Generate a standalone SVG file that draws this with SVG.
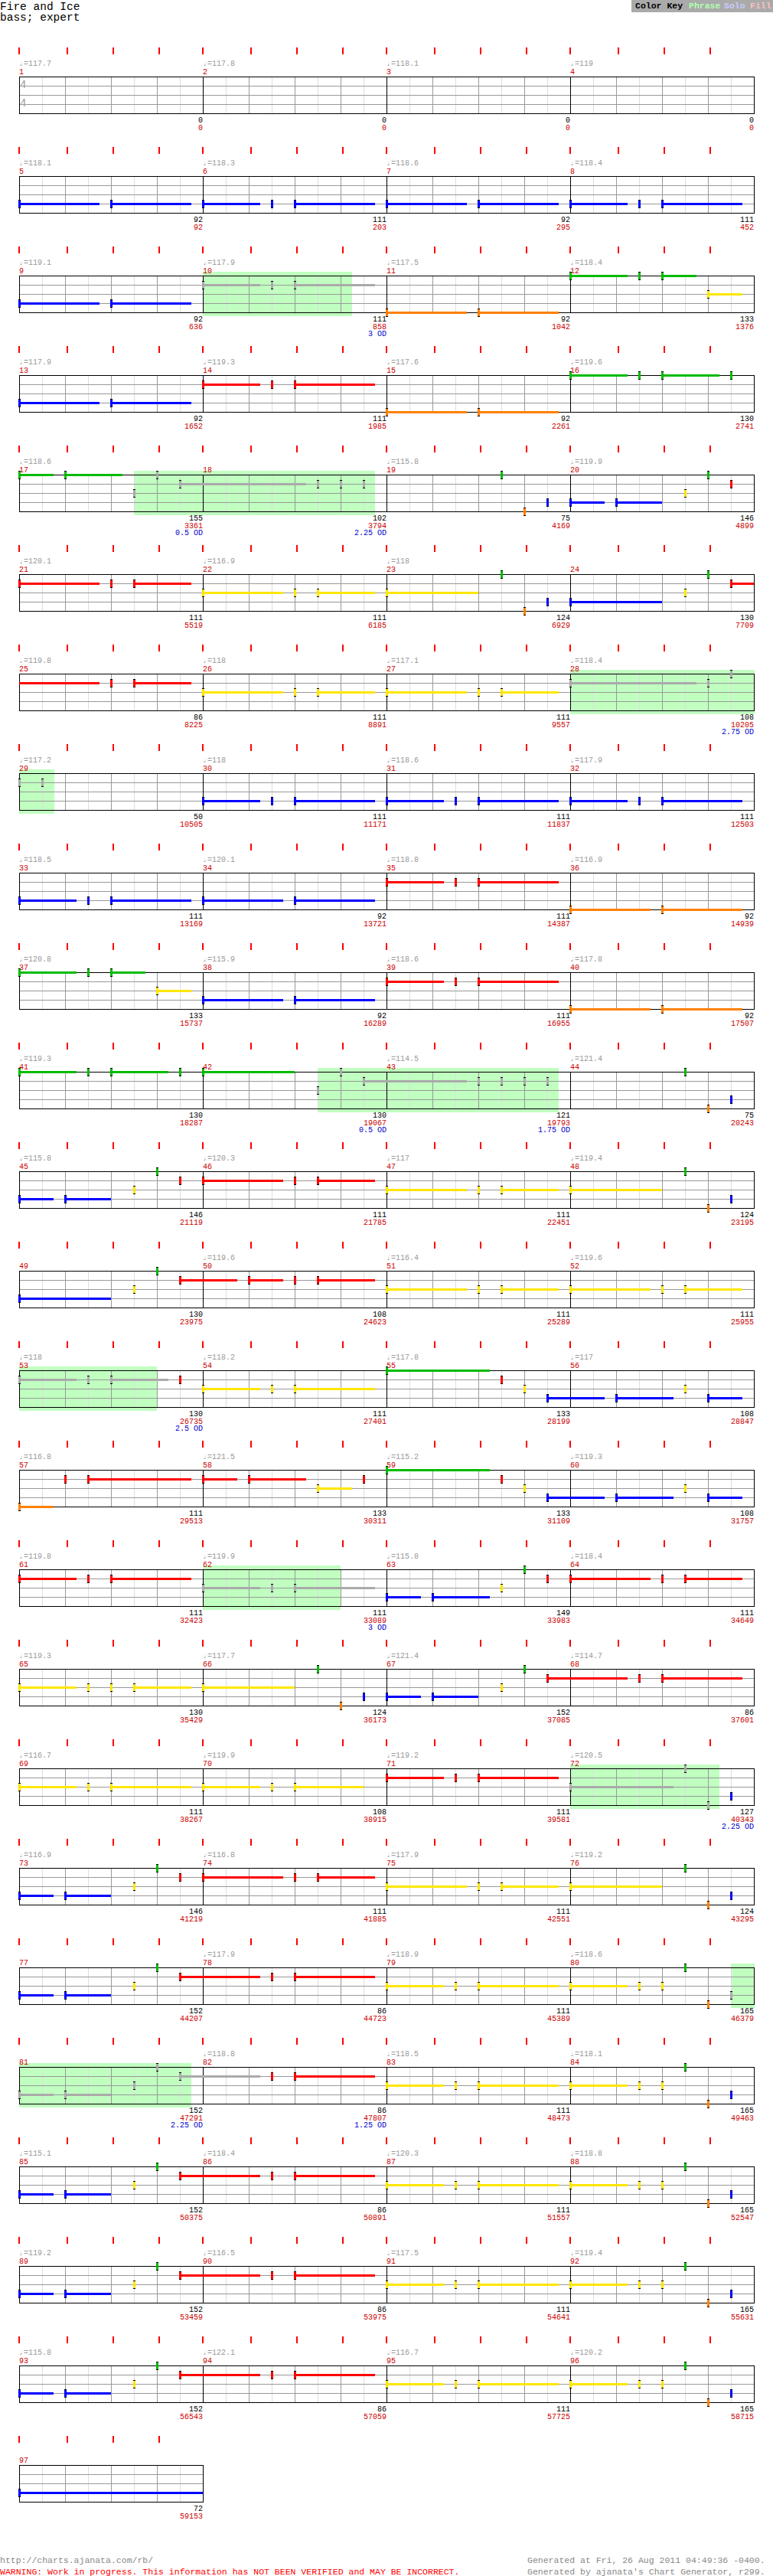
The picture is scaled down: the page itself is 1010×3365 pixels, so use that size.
<svg xmlns="http://www.w3.org/2000/svg" xmlns:xlink="http://www.w3.org/1999/xlink" width="1010" height="3365" viewBox="0 0 1010 3365">
<style>
.t{font-family:"Liberation Mono","DejaVu Sans Mono",monospace;font-size:10px}
.tp{fill:#999}
.mn{fill:#c00}
.sc{text-anchor:end;fill:#000}
.cu{text-anchor:end;fill:#c00}
.od{text-anchor:end;fill:#00c}
.ph{fill:#c0ffc0}
.sG{fill:#00bb00}.sR{fill:#f00}.sY{fill:#ffe600}.sB{fill:#00f}.sO{fill:#ff8000}.sS{fill:#aaa}
.ft{font-family:"Liberation Mono","DejaVu Sans Mono",monospace;font-size:11.5px}
</style>
<defs>
<g id="staff4" fill="none">
<path stroke="#ddd" d="M55.5 100v48M115.5 100v48M175.5 100v48M235.5 100v48M295.5 100v48M355.5 100v48M415.5 100v48M475.5 100v48M535.5 100v48M595.5 100v48M655.5 100v48M715.5 100v48M775.5 100v48M835.5 100v48M895.5 100v48M955.5 100v48"/>
<path stroke="#999" d="M85.5 100v48M145.5 100v48M205.5 100v48M325.5 100v48M385.5 100v48M445.5 100v48M565.5 100v48M625.5 100v48M685.5 100v48M805.5 100v48M865.5 100v48M925.5 100v48M25 112.5h960M25 124.5h960M25 136.5h960"/>
<path stroke="#000" d="M265.5 100v48M505.5 100v48M745.5 100v48"/>
<rect x="25.5" y="100.5" width="960" height="48" stroke="#000"/>
</g>
<g id="staff1" fill="none">
<path stroke="#ddd" d="M55.5 100v48M115.5 100v48M175.5 100v48M235.5 100v48"/>
<path stroke="#999" d="M85.5 100v48M145.5 100v48M205.5 100v48M25 112.5h240M25 124.5h240M25 136.5h240"/>
<rect x="25.5" y="100.5" width="240" height="48" stroke="#000"/>
</g>
<path id="ticks4" stroke="#f00" stroke-width="2" d="M25 62v9M88 62v9M148 62v9M208 62v9M265 62v9M328 62v9M388 62v9M448 62v9M505 62v9M568 62v9M628 62v9M688 62v9M745 62v9M808 62v9M868 62v9M928 62v9"/>
<path id="ticks1" stroke="#f00" stroke-width="2" d="M25 62v9M88 62v9M148 62v9M208 62v9"/>
<g id="hG"><rect x="-1" y="-5" width="3" height="11"/><rect x="-1" y="-4" width="3" height="9" fill="#00bb00"/></g>
<g id="hR"><rect x="-1" y="-5" width="3" height="11"/><rect x="-1" y="-4" width="3" height="9" fill="#f00"/></g>
<g id="hY"><rect x="-1" y="-5" width="3" height="11"/><rect x="-1" y="-4" width="3" height="9" fill="#ffe600"/></g>
<g id="hB"><rect x="-1" y="-5" width="3" height="11"/><rect x="-1" y="-4" width="3" height="9" fill="#00f"/></g>
<g id="hO"><rect x="-1" y="-5" width="3" height="11"/><rect x="-1" y="-4" width="3" height="9" fill="#ff8000"/></g>
<g id="hS"><rect x="-1" y="-5" width="3" height="11"/><rect x="-1" y="-4" width="3" height="9" fill="#aaa"/></g>
<g id="P2">
<rect class="sB" x="25" y="135" width="45" height="3"/><use href="#hB" x="25" y="136"/>
<rect class="sB" x="85" y="135" width="60" height="3"/><use href="#hB" x="85" y="136"/>
<use href="#hY" x="175" y="124"/><use href="#hG" x="205" y="100"/><use href="#hR" x="235" y="112"/>
<rect class="sR" x="265" y="111" width="105" height="3"/><use href="#hR" x="265" y="112"/>
<use href="#hR" x="385" y="112"/>
<rect class="sR" x="415" y="111" width="75" height="3"/><use href="#hR" x="415" y="112"/>
<rect class="sY" x="505" y="123" width="105" height="3"/><use href="#hY" x="505" y="124"/>
<use href="#hY" x="625" y="124"/>
<rect class="sY" x="655" y="123" width="75" height="3"/><use href="#hY" x="655" y="124"/>
<rect class="sY" x="745" y="123" width="120" height="3"/><use href="#hY" x="745" y="124"/>
<use href="#hG" x="895" y="100"/><use href="#hO" x="925" y="148"/><use href="#hB" x="955" y="136"/>
</g>
<g id="P1s">
<rect class="sB" x="25" y="135" width="45" height="3"/><use href="#hB" x="25" y="136"/>
<rect class="sB" x="85" y="135" width="60" height="3"/><use href="#hB" x="85" y="136"/>
<use href="#hY" x="175" y="124"/><use href="#hG" x="205" y="100"/>
<rect class="sR" x="235" y="111" width="105" height="3"/><use href="#hR" x="235" y="112"/>
</g>
<g id="P1m">
<use href="#hR" x="355" y="112"/>
<rect class="sR" x="385" y="111" width="105" height="3"/><use href="#hR" x="385" y="112"/>
<rect class="sY" x="505" y="123" width="75" height="3"/><use href="#hY" x="505" y="124"/>
<use href="#hY" x="595" y="124"/>
<rect class="sY" x="625" y="123" width="105" height="3"/><use href="#hY" x="625" y="124"/>
<rect class="sY" x="745" y="123" width="75" height="3"/><use href="#hY" x="745" y="124"/>
<use href="#hY" x="835" y="124"/><use href="#hY" x="865" y="124"/>
<use href="#hG" x="895" y="100"/><use href="#hO" x="925" y="148"/>
</g>
</defs>
<rect width="1010" height="3365" fill="#fff"/>
<g id="header">
<text x="0" y="13" font-family="Liberation Mono, DejaVu Sans Mono, monospace" font-size="14.5">Fire and Ice</text>
<text x="0" y="27" font-family="Liberation Mono, DejaVu Sans Mono, monospace" font-size="14.5">bass; expert</text>
</g>
<g id="colorkey">
<rect x="825" y="0" width="185" height="16" fill="#aaa"/>
<text font-family="Liberation Mono, DejaVu Sans Mono, monospace" font-size="11.5" font-weight="bold" y="11"><tspan x="830" fill="#000">Color Key</tspan><tspan x="900" fill="#b0ffb0">Phrase</tspan><tspan x="946" fill="#ccccff">Solo</tspan><tspan x="980" fill="#ffc0c0">Fill</tspan></text>
</g>

<g id="row1">
<use href="#staff4"/><use href="#ticks4"/>
<text x="26" y="115" font-family="Liberation Mono, monospace" font-size="14" fill="#999">4</text>
<text x="26" y="138.5" font-family="Liberation Mono, monospace" font-size="14" fill="#999">4</text>
<g class="t">
<text class="tp" x="25" y="86">♩=117.7</text><text class="tp" x="265" y="86">♩=117.8</text><text class="tp" x="505" y="86">♩=118.1</text><text class="tp" x="745" y="86">♩=119</text>
<text class="mn" x="25" y="97">1</text><text class="mn" x="265" y="97">2</text><text class="mn" x="505" y="97">3</text><text class="mn" x="745" y="97">4</text>
<text class="sc" x="265" y="160">0</text><text class="cu" x="265" y="170">0</text>
<text class="sc" x="505" y="160">0</text><text class="cu" x="505" y="170">0</text>
<text class="sc" x="745" y="160">0</text><text class="cu" x="745" y="170">0</text>
<text class="sc" x="985" y="160">0</text><text class="cu" x="985" y="170">0</text>
</g>
</g>

<g id="row2" transform="translate(0,130)">
<use href="#staff4"/><use href="#ticks4"/>
<g class="t">
<text class="tp" x="25" y="86">♩=118.1</text><text class="tp" x="265" y="86">♩=118.3</text><text class="tp" x="505" y="86">♩=118.6</text><text class="tp" x="745" y="86">♩=118.4</text>
<text class="mn" x="25" y="97">5</text><text class="mn" x="265" y="97">6</text><text class="mn" x="505" y="97">7</text><text class="mn" x="745" y="97">8</text>
<text class="sc" x="265" y="160">92</text><text class="cu" x="265" y="170">92</text>
<text class="sc" x="505" y="160">111</text><text class="cu" x="505" y="170">203</text>
<text class="sc" x="745" y="160">92</text><text class="cu" x="745" y="170">295</text>
<text class="sc" x="985" y="160">111</text><text class="cu" x="985" y="170">452</text>
</g>
<rect class="sB" x="25" y="135" width="105" height="3"/><use href="#hB" x="25" y="136"/>
<rect class="sB" x="145" y="135" width="105" height="3"/><use href="#hB" x="145" y="136"/>
<rect class="sB" x="265" y="135" width="75" height="3"/><use href="#hB" x="265" y="136"/>
<use href="#hB" x="355" y="136"/>
<rect class="sB" x="385" y="135" width="105" height="3"/><use href="#hB" x="385" y="136"/>
<rect class="sB" x="505" y="135" width="105" height="3"/><use href="#hB" x="505" y="136"/>
<rect class="sB" x="625" y="135" width="105" height="3"/><use href="#hB" x="625" y="136"/>
<rect class="sB" x="745" y="135" width="75" height="3"/><use href="#hB" x="745" y="136"/>
<use href="#hB" x="835" y="136"/>
<rect class="sB" x="865" y="135" width="105" height="3"/><use href="#hB" x="865" y="136"/>
</g>

<g id="row3" transform="translate(0,260)">
<rect class="ph" x="265" y="95" width="195" height="58"/>
<use href="#staff4"/><use href="#ticks4"/>
<g class="t">
<text class="tp" x="25" y="86">♩=119.1</text><text class="tp" x="265" y="86">♩=117.9</text><text class="tp" x="505" y="86">♩=117.5</text><text class="tp" x="745" y="86">♩=118.4</text>
<text class="mn" x="25" y="97">9</text><text class="mn" x="265" y="97">10</text><text class="mn" x="505" y="97">11</text><text class="mn" x="745" y="97">12</text>
<text class="sc" x="265" y="160">92</text><text class="cu" x="265" y="170">636</text>
<text class="sc" x="505" y="160">111</text><text class="cu" x="505" y="170">858</text><text class="od" x="505" y="179">3 OD</text>
<text class="sc" x="745" y="160">92</text><text class="cu" x="745" y="170">1042</text>
<text class="sc" x="985" y="160">133</text><text class="cu" x="985" y="170">1376</text>
</g>
<rect class="sB" x="25" y="135" width="105" height="3"/><use href="#hB" x="25" y="136"/>
<rect class="sB" x="145" y="135" width="105" height="3"/><use href="#hB" x="145" y="136"/>
<rect class="sS" x="265" y="111" width="75" height="3"/><use href="#hS" x="265" y="112"/>
<use href="#hS" x="355" y="112"/>
<rect class="sS" x="385" y="111" width="105" height="3"/><use href="#hS" x="385" y="112"/>
<rect class="sO" x="505" y="147" width="105" height="3"/><use href="#hO" x="505" y="148"/>
<rect class="sO" x="625" y="147" width="105" height="3"/><use href="#hO" x="625" y="148"/>
<rect class="sG" x="745" y="99" width="75" height="3"/><use href="#hG" x="745" y="100"/>
<use href="#hG" x="835" y="100"/>
<rect class="sG" x="865" y="99" width="45" height="3"/><use href="#hG" x="865" y="100"/>
<rect class="sY" x="925" y="123" width="45" height="3"/><use href="#hY" x="925" y="124"/>
</g>

<g id="row4" transform="translate(0,390)">
<use href="#staff4"/><use href="#ticks4"/>
<g class="t">
<text class="tp" x="25" y="86">♩=117.9</text><text class="tp" x="265" y="86">♩=119.3</text><text class="tp" x="505" y="86">♩=117.6</text><text class="tp" x="745" y="86">♩=119.6</text>
<text class="mn" x="25" y="97">13</text><text class="mn" x="265" y="97">14</text><text class="mn" x="505" y="97">15</text><text class="mn" x="745" y="97">16</text>
<text class="sc" x="265" y="160">92</text><text class="cu" x="265" y="170">1652</text>
<text class="sc" x="505" y="160">111</text><text class="cu" x="505" y="170">1985</text>
<text class="sc" x="745" y="160">92</text><text class="cu" x="745" y="170">2261</text>
<text class="sc" x="985" y="160">130</text><text class="cu" x="985" y="170">2741</text>
</g>
<rect class="sB" x="25" y="135" width="105" height="3"/><use href="#hB" x="25" y="136"/>
<rect class="sB" x="145" y="135" width="105" height="3"/><use href="#hB" x="145" y="136"/>
<rect class="sR" x="265" y="111" width="75" height="3"/><use href="#hR" x="265" y="112"/>
<use href="#hR" x="355" y="112"/>
<rect class="sR" x="385" y="111" width="105" height="3"/><use href="#hR" x="385" y="112"/>
<rect class="sO" x="505" y="147" width="105" height="3"/><use href="#hO" x="505" y="148"/>
<rect class="sO" x="625" y="147" width="105" height="3"/><use href="#hO" x="625" y="148"/>
<rect class="sG" x="745" y="99" width="75" height="3"/><use href="#hG" x="745" y="100"/>
<use href="#hG" x="835" y="100"/>
<rect class="sG" x="865" y="99" width="75" height="3"/><use href="#hG" x="865" y="100"/>
<use href="#hG" x="955" y="100"/>
</g>

<g id="row5" transform="translate(0,520)">
<rect class="ph" x="175" y="95" width="315" height="58"/>
<use href="#staff4"/><use href="#ticks4"/>
<g class="t">
<text class="tp" x="25" y="86">♩=118.6</text><text class="tp" x="505" y="86">♩=115.8</text><text class="tp" x="745" y="86">♩=119.9</text>
<text class="mn" x="25" y="97">17</text><text class="mn" x="265" y="97">18</text><text class="mn" x="505" y="97">19</text><text class="mn" x="745" y="97">20</text>
<text class="sc" x="265" y="160">155</text><text class="cu" x="265" y="170">3361</text><text class="od" x="265" y="179">0.5 OD</text>
<text class="sc" x="505" y="160">102</text><text class="cu" x="505" y="170">3794</text><text class="od" x="505" y="179">2.25 OD</text>
<text class="sc" x="745" y="160">75</text><text class="cu" x="745" y="170">4169</text>
<text class="sc" x="985" y="160">146</text><text class="cu" x="985" y="170">4899</text>
</g>
<rect class="sG" x="25" y="99" width="45" height="3"/><use href="#hG" x="25" y="100"/>
<rect class="sG" x="85" y="99" width="75" height="3"/><use href="#hG" x="85" y="100"/>
<use href="#hS" x="175" y="124"/><use href="#hS" x="205" y="100"/>
<rect class="sS" x="235" y="111" width="165" height="3"/><use href="#hS" x="235" y="112"/>
<use href="#hS" x="415" y="112"/><use href="#hS" x="445" y="112"/><use href="#hS" x="475" y="112"/>
<use href="#hG" x="655" y="100"/><use href="#hO" x="685" y="148"/><use href="#hB" x="715" y="136"/>
<rect class="sB" x="745" y="135" width="45" height="3"/><use href="#hB" x="745" y="136"/>
<rect class="sB" x="805" y="135" width="60" height="3"/><use href="#hB" x="805" y="136"/>
<use href="#hY" x="895" y="124"/><use href="#hG" x="925" y="100"/><use href="#hR" x="955" y="112"/>
</g>

<g id="row6" transform="translate(0,650)">
<use href="#staff4"/><use href="#ticks4"/>
<g class="t">
<text class="tp" x="25" y="86">♩=120.1</text><text class="tp" x="265" y="86">♩=116.9</text><text class="tp" x="505" y="86">♩=118</text>
<text class="mn" x="25" y="97">21</text><text class="mn" x="265" y="97">22</text><text class="mn" x="505" y="97">23</text><text class="mn" x="745" y="97">24</text>
<text class="sc" x="265" y="160">111</text><text class="cu" x="265" y="170">5519</text>
<text class="sc" x="505" y="160">111</text><text class="cu" x="505" y="170">6185</text>
<text class="sc" x="745" y="160">124</text><text class="cu" x="745" y="170">6929</text>
<text class="sc" x="985" y="160">130</text><text class="cu" x="985" y="170">7709</text>
</g>
<rect class="sR" x="25" y="111" width="105" height="3"/><use href="#hR" x="25" y="112"/>
<use href="#hR" x="145" y="112"/>
<rect class="sR" x="175" y="111" width="75" height="3"/><use href="#hR" x="175" y="112"/>
<rect class="sY" x="265" y="123" width="105" height="3"/><use href="#hY" x="265" y="124"/>
<use href="#hY" x="385" y="124"/>
<rect class="sY" x="415" y="123" width="75" height="3"/><use href="#hY" x="415" y="124"/>
<rect class="sY" x="505" y="123" width="120" height="3"/><use href="#hY" x="505" y="124"/>
<use href="#hG" x="655" y="100"/><use href="#hO" x="685" y="148"/><use href="#hB" x="715" y="136"/>
<rect class="sB" x="745" y="135" width="120" height="3"/><use href="#hB" x="745" y="136"/>
<use href="#hY" x="895" y="124"/><use href="#hG" x="925" y="100"/>
<rect class="sR" x="955" y="111" width="30" height="3"/><use href="#hR" x="955" y="112"/>
</g>

<g id="row7" transform="translate(0,780)">
<rect class="ph" x="745" y="95" width="241" height="58"/>
<use href="#staff4"/><use href="#ticks4"/>
<g class="t">
<text class="tp" x="25" y="86">♩=119.8</text><text class="tp" x="265" y="86">♩=118</text><text class="tp" x="505" y="86">♩=117.1</text><text class="tp" x="745" y="86">♩=118.4</text>
<text class="mn" x="25" y="97">25</text><text class="mn" x="265" y="97">26</text><text class="mn" x="505" y="97">27</text><text class="mn" x="745" y="97">28</text>
<text class="sc" x="265" y="160">86</text><text class="cu" x="265" y="170">8225</text>
<text class="sc" x="505" y="160">111</text><text class="cu" x="505" y="170">8891</text>
<text class="sc" x="745" y="160">111</text><text class="cu" x="745" y="170">9557</text>
<text class="sc" x="985" y="160">108</text><text class="cu" x="985" y="170">10205</text><text class="od" x="985" y="179">2.75 OD</text>
</g>
<rect class="sR" x="25" y="111" width="105" height="3"/>
<use href="#hR" x="145" y="112"/>
<rect class="sR" x="175" y="111" width="75" height="3"/><use href="#hR" x="175" y="112"/>
<rect class="sY" x="265" y="123" width="105" height="3"/><use href="#hY" x="265" y="124"/>
<use href="#hY" x="385" y="124"/>
<rect class="sY" x="415" y="123" width="75" height="3"/><use href="#hY" x="415" y="124"/>
<rect class="sY" x="505" y="123" width="105" height="3"/><use href="#hY" x="505" y="124"/>
<use href="#hY" x="625" y="124"/>
<rect class="sY" x="655" y="123" width="75" height="3"/><use href="#hY" x="655" y="124"/>
<rect class="sS" x="745" y="111" width="165" height="3"/><use href="#hS" x="745" y="112"/>
<use href="#hS" x="925" y="112"/><use href="#hS" x="955" y="100"/>
</g>

<g id="row8" transform="translate(0,910)">
<rect class="ph" x="25" y="95" width="46" height="58"/>
<use href="#staff4"/><use href="#ticks4"/>
<g class="t">
<text class="tp" x="25" y="86">♩=117.2</text><text class="tp" x="265" y="86">♩=118</text><text class="tp" x="505" y="86">♩=118.6</text><text class="tp" x="745" y="86">♩=117.9</text>
<text class="mn" x="25" y="97">29</text><text class="mn" x="265" y="97">30</text><text class="mn" x="505" y="97">31</text><text class="mn" x="745" y="97">32</text>
<text class="sc" x="265" y="160">50</text><text class="cu" x="265" y="170">10505</text>
<text class="sc" x="505" y="160">111</text><text class="cu" x="505" y="170">11171</text>
<text class="sc" x="745" y="160">111</text><text class="cu" x="745" y="170">11837</text>
<text class="sc" x="985" y="160">111</text><text class="cu" x="985" y="170">12503</text>
</g>
<use href="#hS" x="25" y="112"/><use href="#hS" x="55" y="112"/>
<rect class="sB" x="265" y="135" width="75" height="3"/><use href="#hB" x="265" y="136"/>
<use href="#hB" x="355" y="136"/>
<rect class="sB" x="385" y="135" width="105" height="3"/><use href="#hB" x="385" y="136"/>
<rect class="sB" x="505" y="135" width="75" height="3"/><use href="#hB" x="505" y="136"/>
<use href="#hB" x="595" y="136"/>
<rect class="sB" x="625" y="135" width="105" height="3"/><use href="#hB" x="625" y="136"/>
<rect class="sB" x="745" y="135" width="75" height="3"/><use href="#hB" x="745" y="136"/>
<use href="#hB" x="835" y="136"/>
<rect class="sB" x="865" y="135" width="105" height="3"/><use href="#hB" x="865" y="136"/>
</g>

<g id="row9" transform="translate(0,1040)">
<use href="#staff4"/><use href="#ticks4"/>
<g class="t">
<text class="tp" x="25" y="86">♩=118.5</text><text class="tp" x="265" y="86">♩=120.1</text><text class="tp" x="505" y="86">♩=118.8</text><text class="tp" x="745" y="86">♩=116.9</text>
<text class="mn" x="25" y="97">33</text><text class="mn" x="265" y="97">34</text><text class="mn" x="505" y="97">35</text><text class="mn" x="745" y="97">36</text>
<text class="sc" x="265" y="160">111</text><text class="cu" x="265" y="170">13169</text>
<text class="sc" x="505" y="160">92</text><text class="cu" x="505" y="170">13721</text>
<text class="sc" x="745" y="160">111</text><text class="cu" x="745" y="170">14387</text>
<text class="sc" x="985" y="160">92</text><text class="cu" x="985" y="170">14939</text>
</g>
<rect class="sB" x="25" y="135" width="75" height="3"/><use href="#hB" x="25" y="136"/>
<use href="#hB" x="115" y="136"/>
<rect class="sB" x="145" y="135" width="105" height="3"/><use href="#hB" x="145" y="136"/>
<rect class="sB" x="265" y="135" width="105" height="3"/><use href="#hB" x="265" y="136"/>
<rect class="sB" x="385" y="135" width="105" height="3"/><use href="#hB" x="385" y="136"/>
<rect class="sR" x="505" y="111" width="75" height="3"/><use href="#hR" x="505" y="112"/>
<use href="#hR" x="595" y="112"/>
<rect class="sR" x="625" y="111" width="105" height="3"/><use href="#hR" x="625" y="112"/>
<rect class="sO" x="745" y="147" width="105" height="3"/><use href="#hO" x="745" y="148"/>
<rect class="sO" x="865" y="147" width="105" height="3"/><use href="#hO" x="865" y="148"/>
</g>

<g id="row10" transform="translate(0,1170)">
<use href="#staff4"/><use href="#ticks4"/>
<g class="t">
<text class="tp" x="25" y="86">♩=120.8</text><text class="tp" x="265" y="86">♩=115.9</text><text class="tp" x="505" y="86">♩=118.6</text><text class="tp" x="745" y="86">♩=117.8</text>
<text class="mn" x="25" y="97">37</text><text class="mn" x="265" y="97">38</text><text class="mn" x="505" y="97">39</text><text class="mn" x="745" y="97">40</text>
<text class="sc" x="265" y="160">133</text><text class="cu" x="265" y="170">15737</text>
<text class="sc" x="505" y="160">92</text><text class="cu" x="505" y="170">16289</text>
<text class="sc" x="745" y="160">111</text><text class="cu" x="745" y="170">16955</text>
<text class="sc" x="985" y="160">92</text><text class="cu" x="985" y="170">17507</text>
</g>
<rect class="sG" x="25" y="99" width="75" height="3"/><use href="#hG" x="25" y="100"/>
<use href="#hG" x="115" y="100"/>
<rect class="sG" x="145" y="99" width="45" height="3"/><use href="#hG" x="145" y="100"/>
<rect class="sY" x="205" y="123" width="45" height="3"/><use href="#hY" x="205" y="124"/>
<rect class="sB" x="265" y="135" width="105" height="3"/><use href="#hB" x="265" y="136"/>
<rect class="sB" x="385" y="135" width="105" height="3"/><use href="#hB" x="385" y="136"/>
<rect class="sR" x="505" y="111" width="75" height="3"/><use href="#hR" x="505" y="112"/>
<use href="#hR" x="595" y="112"/>
<rect class="sR" x="625" y="111" width="105" height="3"/><use href="#hR" x="625" y="112"/>
<rect class="sO" x="745" y="147" width="105" height="3"/><use href="#hO" x="745" y="148"/>
<rect class="sO" x="865" y="147" width="105" height="3"/><use href="#hO" x="865" y="148"/>
</g>

<g id="row11" transform="translate(0,1300)">
<rect class="ph" x="415" y="95" width="315" height="58"/>
<use href="#staff4"/><use href="#ticks4"/>
<g class="t">
<text class="tp" x="25" y="86">♩=119.3</text><text class="tp" x="505" y="86">♩=114.5</text><text class="tp" x="745" y="86">♩=121.4</text>
<text class="mn" x="25" y="97">41</text><text class="mn" x="265" y="97">42</text><text class="mn" x="505" y="97">43</text><text class="mn" x="745" y="97">44</text>
<text class="sc" x="265" y="160">130</text><text class="cu" x="265" y="170">18287</text>
<text class="sc" x="505" y="160">130</text><text class="cu" x="505" y="170">19067</text><text class="od" x="505" y="179">0.5 OD</text>
<text class="sc" x="745" y="160">121</text><text class="cu" x="745" y="170">19793</text><text class="od" x="745" y="179">1.75 OD</text>
<text class="sc" x="985" y="160">75</text><text class="cu" x="985" y="170">20243</text>
</g>
<rect class="sG" x="25" y="99" width="75" height="3"/><use href="#hG" x="25" y="100"/>
<use href="#hG" x="115" y="100"/>
<rect class="sG" x="145" y="99" width="75" height="3"/><use href="#hG" x="145" y="100"/>
<use href="#hG" x="235" y="100"/>
<rect class="sG" x="265" y="99" width="120" height="3"/><use href="#hG" x="265" y="100"/>
<use href="#hS" x="415" y="124"/><use href="#hS" x="445" y="100"/>
<rect class="sS" x="475" y="111" width="135" height="3"/><use href="#hS" x="475" y="112"/>
<use href="#hS" x="625" y="112"/><use href="#hS" x="655" y="112"/><use href="#hS" x="685" y="112"/><use href="#hS" x="715" y="112"/>
<use href="#hG" x="895" y="100"/><use href="#hO" x="925" y="148"/><use href="#hB" x="955" y="136"/>
</g>

<g id="row12" transform="translate(0,1430)">
<use href="#staff4"/><use href="#ticks4"/>
<g class="t">
<text class="tp" x="25" y="86">♩=115.8</text><text class="tp" x="265" y="86">♩=120.3</text><text class="tp" x="505" y="86">♩=117</text><text class="tp" x="745" y="86">♩=119.4</text>
<text class="mn" x="25" y="97">45</text><text class="mn" x="265" y="97">46</text><text class="mn" x="505" y="97">47</text><text class="mn" x="745" y="97">48</text>
<text class="sc" x="265" y="160">146</text><text class="cu" x="265" y="170">21119</text>
<text class="sc" x="505" y="160">111</text><text class="cu" x="505" y="170">21785</text>
<text class="sc" x="745" y="160">111</text><text class="cu" x="745" y="170">22451</text>
<text class="sc" x="985" y="160">124</text><text class="cu" x="985" y="170">23195</text>
</g>
<use href="#P2"/>
</g>

<g id="row13" transform="translate(0,1560)">
<use href="#staff4"/><use href="#ticks4"/>
<g class="t">
<text class="tp" x="265" y="86">♩=119.6</text><text class="tp" x="505" y="86">♩=116.4</text><text class="tp" x="745" y="86">♩=119.6</text>
<text class="mn" x="25" y="97">49</text><text class="mn" x="265" y="97">50</text><text class="mn" x="505" y="97">51</text><text class="mn" x="745" y="97">52</text>
<text class="sc" x="265" y="160">130</text><text class="cu" x="265" y="170">23975</text>
<text class="sc" x="505" y="160">108</text><text class="cu" x="505" y="170">24623</text>
<text class="sc" x="745" y="160">111</text><text class="cu" x="745" y="170">25289</text>
<text class="sc" x="985" y="160">111</text><text class="cu" x="985" y="170">25955</text>
</g>
<rect class="sB" x="25" y="135" width="120" height="3"/><use href="#hB" x="25" y="136"/>
<use href="#hY" x="175" y="124"/><use href="#hG" x="205" y="100"/>
<rect class="sR" x="235" y="111" width="75" height="3"/><use href="#hR" x="235" y="112"/>
<rect class="sR" x="325" y="111" width="45" height="3"/><use href="#hR" x="325" y="112"/>
<use href="#hR" x="385" y="112"/>
<rect class="sR" x="415" y="111" width="75" height="3"/><use href="#hR" x="415" y="112"/>
<rect class="sY" x="505" y="123" width="105" height="3"/><use href="#hY" x="505" y="124"/>
<use href="#hY" x="625" y="124"/>
<rect class="sY" x="655" y="123" width="75" height="3"/><use href="#hY" x="655" y="124"/>
<rect class="sY" x="745" y="123" width="105" height="3"/><use href="#hY" x="745" y="124"/>
<use href="#hY" x="865" y="124"/>
<rect class="sY" x="895" y="123" width="75" height="3"/><use href="#hY" x="895" y="124"/>
</g>

<g id="row14" transform="translate(0,1690)">
<rect class="ph" x="25" y="95" width="180" height="58"/>
<use href="#staff4"/><use href="#ticks4"/>
<g class="t">
<text class="tp" x="25" y="86">♩=118</text><text class="tp" x="265" y="86">♩=118.2</text><text class="tp" x="505" y="86">♩=117.8</text><text class="tp" x="745" y="86">♩=117</text>
<text class="mn" x="25" y="97">53</text><text class="mn" x="265" y="97">54</text><text class="mn" x="505" y="97">55</text><text class="mn" x="745" y="97">56</text>
<text class="sc" x="265" y="160">130</text><text class="cu" x="265" y="170">26735</text><text class="od" x="265" y="179">2.5 OD</text>
<text class="sc" x="505" y="160">111</text><text class="cu" x="505" y="170">27401</text>
<text class="sc" x="745" y="160">133</text><text class="cu" x="745" y="170">28199</text>
<text class="sc" x="985" y="160">108</text><text class="cu" x="985" y="170">28847</text>
</g>
<rect class="sS" x="25" y="111" width="75" height="3"/><use href="#hS" x="25" y="112"/>
<use href="#hS" x="115" y="112"/>
<rect class="sS" x="145" y="111" width="75" height="3"/><use href="#hS" x="145" y="112"/>
<use href="#hR" x="235" y="112"/>
<rect class="sY" x="265" y="123" width="75" height="3"/><use href="#hY" x="265" y="124"/>
<use href="#hY" x="355" y="124"/>
<rect class="sY" x="385" y="123" width="105" height="3"/><use href="#hY" x="385" y="124"/>
<rect class="sG" x="505" y="99" width="135" height="3"/><use href="#hG" x="505" y="100"/>
<use href="#hR" x="655" y="112"/><use href="#hY" x="685" y="124"/>
<rect class="sB" x="715" y="135" width="75" height="3"/><use href="#hB" x="715" y="136"/>
<rect class="sB" x="805" y="135" width="75" height="3"/><use href="#hB" x="805" y="136"/>
<use href="#hY" x="895" y="124"/>
<rect class="sB" x="925" y="135" width="45" height="3"/><use href="#hB" x="925" y="136"/>
</g>

<g id="row15" transform="translate(0,1820)">
<use href="#staff4"/><use href="#ticks4"/>
<g class="t">
<text class="tp" x="25" y="86">♩=116.8</text><text class="tp" x="265" y="86">♩=121.5</text><text class="tp" x="505" y="86">♩=115.2</text><text class="tp" x="745" y="86">♩=119.3</text>
<text class="mn" x="25" y="97">57</text><text class="mn" x="265" y="97">58</text><text class="mn" x="505" y="97">59</text><text class="mn" x="745" y="97">60</text>
<text class="sc" x="265" y="160">111</text><text class="cu" x="265" y="170">29513</text>
<text class="sc" x="505" y="160">133</text><text class="cu" x="505" y="170">30311</text>
<text class="sc" x="745" y="160">133</text><text class="cu" x="745" y="170">31109</text>
<text class="sc" x="985" y="160">108</text><text class="cu" x="985" y="170">31757</text>
</g>
<rect class="sO" x="25" y="147" width="45" height="3"/><use href="#hO" x="25" y="148"/>
<use href="#hR" x="85" y="112"/>
<rect class="sR" x="115" y="111" width="135" height="3"/><use href="#hR" x="115" y="112"/>
<rect class="sR" x="265" y="111" width="45" height="3"/><use href="#hR" x="265" y="112"/>
<rect class="sR" x="325" y="111" width="75" height="3"/><use href="#hR" x="325" y="112"/>
<rect class="sY" x="415" y="123" width="45" height="3"/><use href="#hY" x="415" y="124"/>
<use href="#hR" x="475" y="112"/>
<rect class="sG" x="505" y="99" width="135" height="3"/><use href="#hG" x="505" y="100"/>
<use href="#hR" x="655" y="112"/><use href="#hY" x="685" y="124"/>
<rect class="sB" x="715" y="135" width="75" height="3"/><use href="#hB" x="715" y="136"/>
<rect class="sB" x="805" y="135" width="75" height="3"/><use href="#hB" x="805" y="136"/>
<use href="#hY" x="895" y="124"/>
<rect class="sB" x="925" y="135" width="45" height="3"/><use href="#hB" x="925" y="136"/>
</g>

<g id="row16" transform="translate(0,1950)">
<rect class="ph" x="265" y="95" width="180" height="58"/>
<use href="#staff4"/><use href="#ticks4"/>
<g class="t">
<text class="tp" x="25" y="86">♩=119.8</text><text class="tp" x="265" y="86">♩=119.9</text><text class="tp" x="505" y="86">♩=115.8</text><text class="tp" x="745" y="86">♩=118.4</text>
<text class="mn" x="25" y="97">61</text><text class="mn" x="265" y="97">62</text><text class="mn" x="505" y="97">63</text><text class="mn" x="745" y="97">64</text>
<text class="sc" x="265" y="160">111</text><text class="cu" x="265" y="170">32423</text>
<text class="sc" x="505" y="160">111</text><text class="cu" x="505" y="170">33089</text><text class="od" x="505" y="179">3 OD</text>
<text class="sc" x="745" y="160">149</text><text class="cu" x="745" y="170">33983</text>
<text class="sc" x="985" y="160">111</text><text class="cu" x="985" y="170">34649</text>
</g>
<rect class="sR" x="25" y="111" width="75" height="3"/><use href="#hR" x="25" y="112"/>
<use href="#hR" x="115" y="112"/>
<rect class="sR" x="145" y="111" width="105" height="3"/><use href="#hR" x="145" y="112"/>
<rect class="sS" x="265" y="123" width="75" height="3"/><use href="#hS" x="265" y="124"/>
<use href="#hS" x="355" y="124"/>
<rect class="sS" x="385" y="123" width="105" height="3"/><use href="#hS" x="385" y="124"/>
<rect class="sB" x="505" y="135" width="45" height="3"/><use href="#hB" x="505" y="136"/>
<rect class="sB" x="565" y="135" width="75" height="3"/><use href="#hB" x="565" y="136"/>
<use href="#hY" x="655" y="124"/><use href="#hG" x="685" y="100"/><use href="#hR" x="715" y="112"/>
<rect class="sR" x="745" y="111" width="105" height="3"/><use href="#hR" x="745" y="112"/>
<use href="#hR" x="865" y="112"/>
<rect class="sR" x="895" y="111" width="75" height="3"/><use href="#hR" x="895" y="112"/>
</g>

<g id="row17" transform="translate(0,2080)">
<use href="#staff4"/><use href="#ticks4"/>
<g class="t">
<text class="tp" x="25" y="86">♩=119.3</text><text class="tp" x="265" y="86">♩=117.7</text><text class="tp" x="505" y="86">♩=121.4</text><text class="tp" x="745" y="86">♩=114.7</text>
<text class="mn" x="25" y="97">65</text><text class="mn" x="265" y="97">66</text><text class="mn" x="505" y="97">67</text><text class="mn" x="745" y="97">68</text>
<text class="sc" x="265" y="160">130</text><text class="cu" x="265" y="170">35429</text>
<text class="sc" x="505" y="160">124</text><text class="cu" x="505" y="170">36173</text>
<text class="sc" x="745" y="160">152</text><text class="cu" x="745" y="170">37085</text>
<text class="sc" x="985" y="160">86</text><text class="cu" x="985" y="170">37601</text>
</g>
<rect class="sY" x="25" y="123" width="75" height="3"/><use href="#hY" x="25" y="124"/>
<use href="#hY" x="115" y="124"/><use href="#hY" x="145" y="124"/>
<rect class="sY" x="175" y="123" width="75" height="3"/><use href="#hY" x="175" y="124"/>
<rect class="sY" x="265" y="123" width="120" height="3"/><use href="#hY" x="265" y="124"/>
<use href="#hG" x="415" y="100"/><use href="#hO" x="445" y="148"/><use href="#hB" x="475" y="136"/>
<rect class="sB" x="505" y="135" width="45" height="3"/><use href="#hB" x="505" y="136"/>
<rect class="sB" x="565" y="135" width="60" height="3"/><use href="#hB" x="565" y="136"/>
<use href="#hY" x="655" y="124"/><use href="#hG" x="685" y="100"/>
<rect class="sR" x="715" y="111" width="105" height="3"/><use href="#hR" x="715" y="112"/>
<use href="#hR" x="835" y="112"/>
<rect class="sR" x="865" y="111" width="105" height="3"/><use href="#hR" x="865" y="112"/>
</g>

<g id="row18" transform="translate(0,2210)">
<rect class="ph" x="745" y="95" width="195" height="58"/>
<use href="#staff4"/><use href="#ticks4"/>
<g class="t">
<text class="tp" x="25" y="86">♩=116.7</text><text class="tp" x="265" y="86">♩=119.9</text><text class="tp" x="505" y="86">♩=119.2</text><text class="tp" x="745" y="86">♩=120.5</text>
<text class="mn" x="25" y="97">69</text><text class="mn" x="265" y="97">70</text><text class="mn" x="505" y="97">71</text><text class="mn" x="745" y="97">72</text>
<text class="sc" x="265" y="160">111</text><text class="cu" x="265" y="170">38267</text>
<text class="sc" x="505" y="160">108</text><text class="cu" x="505" y="170">38915</text>
<text class="sc" x="745" y="160">111</text><text class="cu" x="745" y="170">39581</text>
<text class="sc" x="985" y="160">127</text><text class="cu" x="985" y="170">40343</text><text class="od" x="985" y="179">2.25 OD</text>
</g>
<rect class="sY" x="25" y="123" width="75" height="3"/><use href="#hY" x="25" y="124"/>
<use href="#hY" x="115" y="124"/>
<rect class="sY" x="145" y="123" width="105" height="3"/><use href="#hY" x="145" y="124"/>
<rect class="sY" x="265" y="123" width="75" height="3"/><use href="#hY" x="265" y="124"/>
<use href="#hY" x="355" y="124"/>
<rect class="sY" x="385" y="123" width="90" height="3"/><use href="#hY" x="385" y="124"/>
<rect class="sR" x="505" y="111" width="75" height="3"/><use href="#hR" x="505" y="112"/>
<use href="#hR" x="595" y="112"/>
<rect class="sR" x="625" y="111" width="105" height="3"/><use href="#hR" x="625" y="112"/>
<rect class="sS" x="745" y="123" width="135" height="3"/><use href="#hS" x="745" y="124"/>
<use href="#hS" x="895" y="100"/><use href="#hS" x="925" y="148"/>
<use href="#hB" x="955" y="136"/>
</g>

<g id="row19" transform="translate(0,2340)">
<use href="#staff4"/><use href="#ticks4"/>
<g class="t">
<text class="tp" x="25" y="86">♩=116.9</text><text class="tp" x="265" y="86">♩=116.8</text><text class="tp" x="505" y="86">♩=117.9</text><text class="tp" x="745" y="86">♩=119.2</text>
<text class="mn" x="25" y="97">73</text><text class="mn" x="265" y="97">74</text><text class="mn" x="505" y="97">75</text><text class="mn" x="745" y="97">76</text>
<text class="sc" x="265" y="160">146</text><text class="cu" x="265" y="170">41219</text>
<text class="sc" x="505" y="160">111</text><text class="cu" x="505" y="170">41885</text>
<text class="sc" x="745" y="160">111</text><text class="cu" x="745" y="170">42551</text>
<text class="sc" x="985" y="160">124</text><text class="cu" x="985" y="170">43295</text>
</g>
<use href="#P2"/>
</g>

<g id="row20" transform="translate(0,2470)">
<rect class="ph" x="955" y="95" width="31" height="58"/>
<use href="#staff4"/><use href="#ticks4"/>
<g class="t">
<text class="tp" x="265" y="86">♩=117.9</text><text class="tp" x="505" y="86">♩=118.9</text><text class="tp" x="745" y="86">♩=118.6</text>
<text class="mn" x="25" y="97">77</text><text class="mn" x="265" y="97">78</text><text class="mn" x="505" y="97">79</text><text class="mn" x="745" y="97">80</text>
<text class="sc" x="265" y="160">152</text><text class="cu" x="265" y="170">44207</text>
<text class="sc" x="505" y="160">86</text><text class="cu" x="505" y="170">44723</text>
<text class="sc" x="745" y="160">111</text><text class="cu" x="745" y="170">45389</text>
<text class="sc" x="985" y="160">165</text><text class="cu" x="985" y="170">46379</text>
</g>
<use href="#P1s"/><use href="#P1m"/><use href="#hS" x="955" y="136"/>
</g>

<g id="row21" transform="translate(0,2600)">
<rect class="ph" x="25" y="95" width="225" height="58"/>
<use href="#staff4"/><use href="#ticks4"/>
<g class="t">
<text class="tp" x="265" y="86">♩=118.8</text><text class="tp" x="505" y="86">♩=118.5</text><text class="tp" x="745" y="86">♩=118.1</text>
<text class="mn" x="25" y="97">81</text><text class="mn" x="265" y="97">82</text><text class="mn" x="505" y="97">83</text><text class="mn" x="745" y="97">84</text>
<text class="sc" x="265" y="160">152</text><text class="cu" x="265" y="170">47291</text><text class="od" x="265" y="179">2.25 OD</text>
<text class="sc" x="505" y="160">86</text><text class="cu" x="505" y="170">47807</text><text class="od" x="505" y="179">1.25 OD</text>
<text class="sc" x="745" y="160">111</text><text class="cu" x="745" y="170">48473</text>
<text class="sc" x="985" y="160">165</text><text class="cu" x="985" y="170">49463</text>
</g>
<rect class="sS" x="25" y="135" width="45" height="3"/><use href="#hS" x="25" y="136"/>
<rect class="sS" x="85" y="135" width="60" height="3"/><use href="#hS" x="85" y="136"/>
<use href="#hS" x="175" y="124"/><use href="#hS" x="205" y="100"/>
<rect class="sS" x="235" y="111" width="105" height="3"/><use href="#hS" x="235" y="112"/>
<use href="#P1m"/><use href="#hB" x="955" y="136"/>
</g>

<g id="row22" transform="translate(0,2730)">
<use href="#staff4"/><use href="#ticks4"/>
<g class="t">
<text class="tp" x="25" y="86">♩=115.1</text><text class="tp" x="265" y="86">♩=118.4</text><text class="tp" x="505" y="86">♩=120.3</text><text class="tp" x="745" y="86">♩=118.8</text>
<text class="mn" x="25" y="97">85</text><text class="mn" x="265" y="97">86</text><text class="mn" x="505" y="97">87</text><text class="mn" x="745" y="97">88</text>
<text class="sc" x="265" y="160">152</text><text class="cu" x="265" y="170">50375</text>
<text class="sc" x="505" y="160">86</text><text class="cu" x="505" y="170">50891</text>
<text class="sc" x="745" y="160">111</text><text class="cu" x="745" y="170">51557</text>
<text class="sc" x="985" y="160">165</text><text class="cu" x="985" y="170">52547</text>
</g>
<use href="#P1s"/><use href="#P1m"/><use href="#hB" x="955" y="136"/>
</g>

<g id="row23" transform="translate(0,2860)">
<use href="#staff4"/><use href="#ticks4"/>
<g class="t">
<text class="tp" x="25" y="86">♩=119.2</text><text class="tp" x="265" y="86">♩=116.5</text><text class="tp" x="505" y="86">♩=117.5</text><text class="tp" x="745" y="86">♩=119.4</text>
<text class="mn" x="25" y="97">89</text><text class="mn" x="265" y="97">90</text><text class="mn" x="505" y="97">91</text><text class="mn" x="745" y="97">92</text>
<text class="sc" x="265" y="160">152</text><text class="cu" x="265" y="170">53459</text>
<text class="sc" x="505" y="160">86</text><text class="cu" x="505" y="170">53975</text>
<text class="sc" x="745" y="160">111</text><text class="cu" x="745" y="170">54641</text>
<text class="sc" x="985" y="160">165</text><text class="cu" x="985" y="170">55631</text>
</g>
<use href="#P1s"/><use href="#P1m"/><use href="#hB" x="955" y="136"/>
</g>

<g id="row24" transform="translate(0,2990)">
<use href="#staff4"/><use href="#ticks4"/>
<g class="t">
<text class="tp" x="25" y="86">♩=115.8</text><text class="tp" x="265" y="86">♩=122.1</text><text class="tp" x="505" y="86">♩=116.7</text><text class="tp" x="745" y="86">♩=120.2</text>
<text class="mn" x="25" y="97">93</text><text class="mn" x="265" y="97">94</text><text class="mn" x="505" y="97">95</text><text class="mn" x="745" y="97">96</text>
<text class="sc" x="265" y="160">152</text><text class="cu" x="265" y="170">56543</text>
<text class="sc" x="505" y="160">86</text><text class="cu" x="505" y="170">57059</text>
<text class="sc" x="745" y="160">111</text><text class="cu" x="745" y="170">57725</text>
<text class="sc" x="985" y="160">165</text><text class="cu" x="985" y="170">58715</text>
</g>
<use href="#P1s"/><use href="#P1m"/><use href="#hB" x="955" y="136"/>
</g>

<g id="row25" transform="translate(0,3120)">
<use href="#staff1"/><use href="#ticks1"/>
<g class="t">
<text class="mn" x="25" y="97">97</text>
<text class="sc" x="265" y="160">72</text><text class="cu" x="265" y="170">59153</text>
</g>
<rect class="sB" x="25" y="135" width="240" height="3"/><use href="#hB" x="25" y="136"/>
</g>

<g id="footer" class="ft">
<text x="0" y="3348" fill="#888">http://charts.ajanata.com/rb/</text>
<text x="0" y="3363" fill="#f00">WARNING: Work in progress. This information has NOT BEEN VERIFIED and MAY BE INCORRECT.</text>
<text x="689" y="3348" fill="#888">Generated at Fri, 26 Aug 2011 04:49:36 -0400.</text>
<text x="689" y="3363" fill="#888">Generated by ajanata's Chart Generator, r299.</text>
</g>
</svg>
